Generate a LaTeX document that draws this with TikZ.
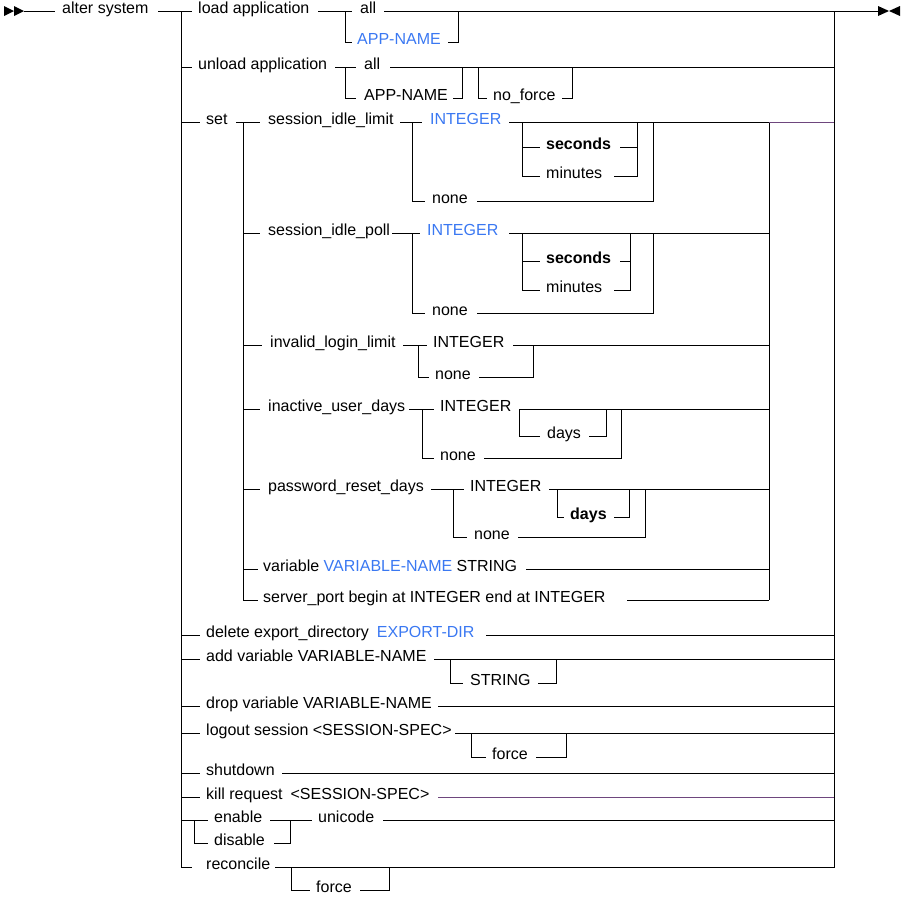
\documentclass[tikz,border=0pt]{standalone}
\usepackage{fontspec}
\setmainfont{Liberation Sans}
\begin{document}
\begin{tikzpicture}[x=1pt,y=-1pt,
  ln/.style={line width=0.8pt,black},
  pl/.style={line width=0.8pt,color={rgb,255:red,110;green,70;blue,125}},
  txt/.style={anchor=mid west,inner sep=0pt,font=\fontsize{16}{18}\selectfont},
  bl/.style={text={rgb,255:red,58;green,120;blue,242}},
  bd/.style={font=\fontsize{16}{18}\selectfont\bfseries}]
\useasboundingbox (0,0) rectangle (905,903);
% arrows
\fill (4,6) -- (14,11) -- (4,16) -- cycle;
\fill (14,6) -- (24,11) -- (14,16) -- cycle;
\fill (878,6) -- (889,11) -- (878,16) -- cycle;
\fill (900,6) -- (889,11) -- (900,16) -- cycle;
% main bars
\draw[ln] (181,11) -- (181,867) -- (192,867);
\draw[ln] (834,11) -- (834,867) -- (819,867);
\draw[ln] (24,11) -- (55,11);
\node[txt] (as) at (62,11) {alter system};
\draw[ln] (158,11) -- (181,11);
\draw[ln] (834,11) -- (878,11);
% load application
\draw[ln] (181,11) -- (192,11);
\node[txt] (la) at (198,11) {load application};
\draw[ln] (318,11) -- (352,11);
\draw[ln] (345,11) -- (345,42) -- (352,42);
\node[txt] (la1) at (360,11) {all};
\node[txt,bl] (la2) at (357,42) {APP-NAME};
\draw[ln] (384,11) -- (834,11);
\draw[ln] (448,42) -- (458,42) -- (458,11);
% unload application
\draw[ln] (181,67) -- (192,67);
\node[txt] (ua) at (198,67) {unload application};
\draw[ln] (335,67) -- (356,67);
\draw[ln] (345,67) -- (345,98) -- (356,98);
\node[txt] (ua1) at (364,67) {all};
\node[txt] (ua2) at (364,98) {APP-NAME};
\draw[ln] (390,67) -- (834,67);
\draw[ln] (453,98) -- (462,98) -- (462,67);
\draw[ln] (478,67) -- (478,98) -- (487,98);
\node[txt] (nf) at (493,98) {no\_force};
\draw[ln] (562,98) -- (572,98) -- (572,67);
% set
\draw[ln] (181,122) -- (200,122);
\node[txt] (set) at (206,122) {set};
\draw[ln] (236,122) -- (260,122);
\draw[ln] (243,122) -- (243,600) -- (258,600);
\draw[ln] (769,122) -- (769,600);
\draw[pl] (769,122) -- (834,122);
% session_idle_limit
\node[txt] (sil) at (268,122) {session\_idle\_limit};
\draw[ln] (400,122) -- (422,122);
\draw[ln] (412,122) -- (412,201) -- (425,201);
\node[txt,bl] (sil1) at (430,122) {INTEGER};
\node[txt] (sil2) at (432,201) {none};
\draw[ln] (509,122) -- (769,122);
\draw[ln] (522,122) -- (522,176) -- (540,176);
\draw[ln] (522,147) -- (540,147);
\node[txt,bd] (sil3) at (546,147) {seconds};
\node[txt] (sil4) at (546,176) {minutes};
\draw[ln] (620,147) -- (637,147);
\draw[ln] (614,176) -- (637,176) -- (637,122);
\draw[ln] (477,201) -- (653,201) -- (653,122);
% session_idle_poll
\draw[ln] (243,233) -- (260,233);
\node[txt] (sip) at (268,233) {session\_idle\_poll};
\draw[ln] (392,233) -- (420,233);
\draw[ln] (412,233) -- (412,313) -- (425,313);
\node[txt,bl] (sip1) at (427,233) {INTEGER};
\node[txt] (sip2) at (432,313) {none};
\draw[ln] (509,233) -- (769,233);
\draw[ln] (522,233) -- (522,290) -- (540,290);
\draw[ln] (522,261) -- (540,261);
\node[txt,bd] (sip3) at (546,261) {seconds};
\node[txt] (sip4) at (546,290) {minutes};
\draw[ln] (620,261) -- (630,261);
\draw[ln] (614,290) -- (630,290) -- (630,233);
\draw[ln] (477,313) -- (653,313) -- (653,233);
% invalid_login_limit
\draw[ln] (243,345) -- (262,345);
\node[txt] (ill) at (270,345) {invalid\_login\_limit};
\draw[ln] (403,345) -- (427,345);
\draw[ln] (418,345) -- (418,377) -- (429,377);
\node[txt] (ill1) at (433,345) {INTEGER};
\node[txt] (ill2) at (435,377) {none};
\draw[ln] (513,345) -- (769,345);
\draw[ln] (479,377) -- (533,377) -- (533,345);
% inactive_user_days
\draw[ln] (243,409) -- (260,409);
\node[txt] (iud) at (268,409) {inactive\_user\_days};
\draw[ln] (409,409) -- (434,409);
\draw[ln] (422,409) -- (422,458) -- (434,458);
\node[txt] (iud1) at (440,409) {INTEGER};
\node[txt] (iud2) at (440,458) {none};
\draw[ln] (519,409) -- (769,409);
\draw[ln] (519,409) -- (519,436) -- (540,436);
\node[txt] (iud3) at (547,436) {days};
\draw[ln] (589,436) -- (606,436) -- (606,409);
\draw[ln] (484,458) -- (621,458) -- (621,409);
% password_reset_days
\draw[ln] (243,489) -- (260,489);
\node[txt] (prd) at (268,489) {password\_reset\_days};
\draw[ln] (431,489) -- (464,489);
\draw[ln] (453,489) -- (453,537) -- (467,537);
\node[txt] (prd1) at (470,489) {INTEGER};
\node[txt] (prd2) at (474,537) {none};
\draw[ln] (549,489) -- (769,489);
\draw[ln] (557,489) -- (557,517) -- (564,517);
\node[txt,bd] (prd3) at (570,517) {days};
\draw[ln] (614,517) -- (629,517) -- (629,489);
\draw[ln] (518,537) -- (645,537) -- (645,489);
% variable
\draw[ln] (243,569) -- (258,569);
\node[txt] (var) at (263,569) {variable \textcolor[RGB]{58,120,242}{VARIABLE-NAME} STRING};
\draw[ln] (526,569) -- (769,569);
\node[txt] (sp) at (263,600) {server\_port begin at INTEGER end at INTEGER};
\draw[ln] (627,600) -- (769,600);
% delete
\draw[ln] (181,635) -- (200,635);
\node[txt] (del) at (206,635) {delete export\_directory\enspace\textcolor[RGB]{58,120,242}{EXPORT-DIR}};
\draw[ln] (486,635) -- (834,635);
% add variable
\draw[ln] (181,659) -- (200,659);
\node[txt] (add) at (206,659) {add variable VARIABLE-NAME};
\draw[ln] (434,659) -- (834,659);
\draw[ln] (450,659) -- (450,683) -- (463,683);
\node[txt] (add1) at (470,683) {STRING};
\draw[ln] (538,683) -- (556,683) -- (556,659);
% drop variable
\draw[ln] (181,706) -- (200,706);
\node[txt] (drop) at (206,706) {drop variable VARIABLE-NAME};
\draw[ln] (438,706) -- (834,706);
% logout
\draw[ln] (181,733) -- (200,733);
\node[txt] (lo) at (206,733) {logout session <SESSION-SPEC>};
\draw[ln] (455,733) -- (834,733);
\draw[ln] (471,733) -- (471,757) -- (486,757);
\node[txt] (lo1) at (492,757) {force};
\draw[ln] (536,757) -- (566,757) -- (566,733);
% shutdown
\draw[ln] (181,773) -- (200,773);
\node[txt] (sd) at (206,773) {shutdown};
\draw[ln] (282,773) -- (834,773);
% kill
\draw[ln] (181,797) -- (200,797);
\node[txt] (kr) at (206,797) {kill request\enspace<SESSION-SPEC>};
\draw[pl] (438,797) -- (834,797);
% enable/disable
\draw[ln] (181,820) -- (208,820);
\draw[ln] (194,820) -- (194,843) -- (208,843);
\node[txt] (en) at (214,820) {enable};
\node[txt] (dis) at (214,843) {disable};
\draw[ln] (270,820) -- (312,820);
\draw[ln] (274,843) -- (290,843) -- (290,820);
\node[txt] (uc) at (318,820) {unicode};
\draw[ln] (383,820) -- (834,820);
% reconcile
\node[txt] (rc) at (206,867) {reconcile};
\draw[ln] (275,867) -- (834,867);
\draw[ln] (291,867) -- (291,890) -- (310,890);
\node[txt] (rc1) at (316,890) {force};
\draw[ln] (360,890) -- (389,890) -- (389,867);
\end{tikzpicture}
\end{document}
